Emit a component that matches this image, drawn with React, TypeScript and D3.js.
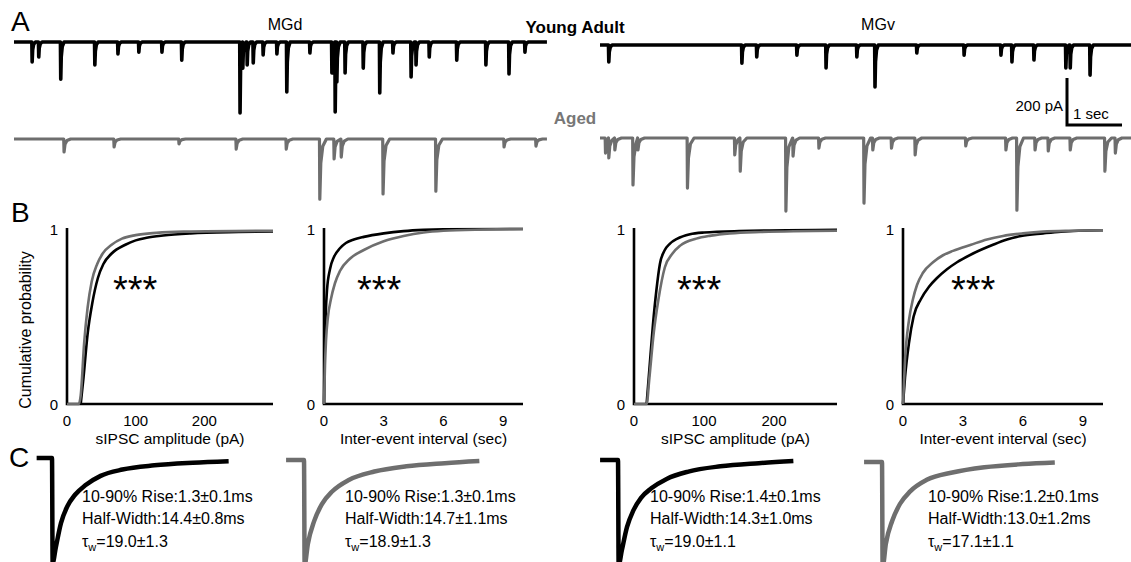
import React from "react";
import * as d3 from "d3";

const FONT = "'Liberation Sans', Arial, Helvetica, sans-serif";
const BLACK = "#000";
const GRAY = "#6e6e6e";

// Panel A: sIPSC events, [time (s), amplitude (pA)]
const youngMGdEvents = [
  [0.33, 85], [0.45, 64], [0.85, 158], [1.47, 98], [1.89, 51], [2.27, 43], [2.69, 43],
  [3.05, 77], [4.11, 302], [4.16, 111], [4.24, 98], [4.35, 89], [4.53, 55], [4.78, 51],
  [4.96, 213], [5.38, 47], [5.78, 132], [5.84, 298], [5.87, 170], [6.02, 132], [6.35, 111],
  [6.65, 217], [6.89, 47], [7.22, 149], [7.31, 98], [7.55, 64], [8.05, 77], [8.58, 98],
  [9.0, 136], [9.29, 43],
];
const youngMGvEvents = [
  [0.16, 72], [2.58, 77], [2.85, 51], [3.58, 43], [4.11, 98], [4.67, 51], [5.0, 179],
  [5.76, 34], [6.62, 43], [7.29, 43], [7.49, 72], [7.89, 64], [8.47, 98], [8.55, 98],
  [8.91, 128],
];
const agedMGdEvents = [
  [0.91, 55], [1.82, 34], [3.0, 21], [4.04, 43], [4.95, 43], [5.56, 256], [5.82, 85],
  [5.95, 77], [6.71, 234], [7.67, 222], [8.91, 34], [9.49, 30],
];
const agedMGvEvents = [
  [0.1, 64], [0.16, 85], [0.27, 51], [0.6, 200], [0.69, 51], [1.59, 213], [2.45, 72],
  [2.55, 141], [3.38, 311], [3.51, 77], [3.98, 43], [4.8, 277], [4.96, 51], [5.3, 43],
  [5.73, 72], [6.65, 34], [7.38, 51], [7.58, 307], [7.91, 51], [8.15, 55], [8.55, 51],
  [9.18, 141], [9.37, 64],
];
const traceDuration = 9.69; // sec
const scaleBarAmp = 200; // pA
const scaleBarTime = 1; // sec

// Panel B: cumulative distributions, [value, probability]
const mgdAmpYoung = [[20, 0], [24, 0.15], [30, 0.4], [37, 0.58], [45, 0.72], [53, 0.8], [65, 0.86], [85, 0.91], [100, 0.935], [116, 0.95], [140, 0.963], [180, 0.975], [250, 0.983], [300, 0.986]];
const mgdAmpAged = [[0, 0], [17, 0], [20, 0.05], [25, 0.35], [30, 0.55], [36, 0.7], [44, 0.8], [52, 0.86], [65, 0.91], [80, 0.945], [100, 0.965], [130, 0.978], [170, 0.985], [300, 0.99]];
const mgdIeiYoung = [[0, 0], [0.03, 0.3], [0.08, 0.5], [0.15, 0.65], [0.3, 0.77], [0.5, 0.84], [0.8, 0.89], [1.1, 0.92], [1.5, 0.94], [2, 0.955], [3, 0.975], [4, 0.988], [5, 0.995], [6, 0.998], [10, 1]];
const mgdIeiAged = [[0, 0], [0.05, 0.22], [0.1, 0.36], [0.2, 0.5], [0.35, 0.6], [0.55, 0.69], [0.8, 0.76], [1.3, 0.83], [2, 0.88], [3, 0.93], [4, 0.96], [5, 0.98], [6, 0.99], [8, 0.997], [10, 1]];
const mgvAmpYoung = [[18, 0], [22, 0.2], [27, 0.45], [32, 0.65], [37, 0.8], [44, 0.88], [51, 0.915], [62, 0.945], [80, 0.97], [100, 0.98], [150, 0.988], [290, 0.995]];
const mgvAmpAged = [[0, 0], [18, 0], [22, 0.15], [28, 0.4], [35, 0.6], [44, 0.78], [55, 0.86], [66, 0.905], [89, 0.945], [110, 0.962], [137, 0.975], [180, 0.983], [290, 0.99]];
const mgvIeiYoung = [[0, 0], [0.1, 0.15], [0.3, 0.35], [0.53, 0.5], [0.9, 0.6], [1.3, 0.67], [1.7, 0.72], [2.2, 0.77], [2.7, 0.81], [3.5, 0.86], [4.5, 0.91], [5.2, 0.94], [5.9, 0.96], [7, 0.975], [7.9, 0.985], [10, 0.993]];
const mgvIeiAged = [[0, 0], [0.1, 0.25], [0.3, 0.48], [0.5, 0.6], [0.7, 0.68], [1, 0.75], [1.5, 0.81], [2, 0.85], [2.5, 0.875], [3.4, 0.91], [4.2, 0.94], [5, 0.96], [6, 0.975], [7, 0.985], [8.5, 0.99], [10, 0.993]];
const ampTicks = [0, 100, 200];
const ieiTicks = [0, 3, 6, 9];
const probTicks = [0, 1];

// Panel C: averaged sIPSCs, [time (ms), fraction of peak]
const avgYoungMGd = [[-12, 0], [0, 0], [0.5, 1], [3, 0.85], [7, 0.62], [12, 0.46], [18, 0.35], [26, 0.26], [38, 0.17], [55, 0.11], [80, 0.07], [110, 0.045], [138, 0.03]];
const avgAgedMGd = [[-14, 0], [0, 0], [0.5, 1], [3, 0.8], [8, 0.58], [14, 0.42], [22, 0.3], [35, 0.19], [55, 0.11], [80, 0.06], [110, 0.03], [137, 0.01]];
const avgYoungMGv = [[-14, 0], [0, 0], [0.5, 1], [3, 0.86], [7, 0.64], [12, 0.48], [18, 0.36], [26, 0.27], [38, 0.18], [55, 0.11], [80, 0.06], [110, 0.03], [137, 0.01]];
const avgAgedMGv = [[-14, 0], [0, 0], [0.5, 1], [3, 0.78], [8, 0.56], [14, 0.4], [22, 0.28], [35, 0.17], [55, 0.1], [80, 0.05], [110, 0.02], [135, 0.005]];
const riseTimes = ["1.3±0.1", "1.3±0.1", "1.4±0.1", "1.2±0.1"];
const halfWidths = ["14.4±0.8", "14.7±1.1", "14.3±1.0", "13.0±1.2"];
const tauW = ["19.0±1.3", "18.9±1.3", "19.0±1.1", "17.1±1.1"];

// layout
const PX_PER_SEC = 55;
const PX_PER_200PA = 47;

const rawTraces = [
  { events: youngMGdEvents, x0: 14, y0: 42, color: BLACK, w: 3.6, decay: 0.06 },
  { events: youngMGvEvents, x0: 600, y0: 45, color: BLACK, w: 3.6, decay: 0.06 },
  { events: agedMGdEvents, x0: 14, y0: 139, color: GRAY, w: 3.2, decay: 0.12 },
  { events: agedMGvEvents, x0: 600, y0: 138, color: GRAY, w: 3.2, decay: 0.12 },
];

const RawTrace = ({ events, x0, y0, color, w, decay }) => {
  const x = d3.scaleLinear().domain([0, traceDuration]).range([x0, x0 + traceDuration * PX_PER_SEC]);
  const y = d3.scaleLinear().domain([0, 200]).range([y0, y0 + PX_PER_200PA]);
  const pts = [[0, 0]];
  events.forEach(([t, a], i) => {
    const next = i < events.length - 1 ? events[i + 1][0] : traceDuration;
    pts.push([t - 0.006, 0], [t, a]);
    const tail = [[t + decay * 0.15, a * 0.4], [t + decay * 0.45, a * 0.12], [t + decay, 0]];
    tail.filter((p) => p[0] < next - 0.006).forEach((p) => pts.push(p));
  });
  pts.push([traceDuration, 0]);
  const line = d3.line().x((d) => x(d[0])).y((d) => y(d[1]));
  return <path d={line(pts)} fill="none" stroke={color} strokeWidth={w} strokeLinejoin="round" />;
};

const cdfPlots = [
  { young: mgdAmpYoung, aged: mgdAmpAged, domain: [0, 300], left: 67, right: 273, ticks: ampTicks, title: "sIPSC amplitude (pA)", star: 113 },
  { young: mgdIeiYoung, aged: mgdIeiAged, domain: [0, 10], left: 324, right: 523, ticks: ieiTicks, title: "Inter-event interval (sec)", star: 357 },
  { young: mgvAmpYoung, aged: mgvAmpAged, domain: [0, 290], left: 634, right: 837, ticks: ampTicks, title: "sIPSC amplitude (pA)", star: 677 },
  { young: mgvIeiYoung, aged: mgvIeiAged, domain: [0, 10], left: 903, right: 1103, ticks: ieiTicks, title: "Inter-event interval (sec)", star: 951 },
];
const B_TOP = 228;
const B_BOTTOM = 404;

const CdfPlot = ({ young, aged, domain, left, right, ticks, title, star }) => {
  const x = d3.scaleLinear().domain(domain).range([left, right]);
  const y = d3.scaleLinear().domain([0, 1]).range([B_BOTTOM, B_TOP + 1]);
  const line = d3.line().x((d) => x(d[0])).y((d) => y(d[1])).curve(d3.curveMonotoneX);
  return (
    <g fontFamily={FONT}>
      <path d={`M${left},${B_TOP}V${B_BOTTOM}H${right}`} fill="none" stroke={BLACK} strokeWidth={2.6} />
      <path d={line(young)} fill="none" stroke={BLACK} strokeWidth={2.6} />
      <path d={line(aged)} fill="none" stroke={GRAY} strokeWidth={2.6} />
      {probTicks.map((p) => (
        <text key={p} x={left - 9} y={y(p) + 5.5} fontSize={15} textAnchor="end">{p}</text>
      ))}
      {ticks.map((t) => (
        <text key={t} x={x(t)} y={426} fontSize={15} textAnchor="middle">{t}</text>
      ))}
      <text x={(left + right) / 2} y={443.5} fontSize={15.5} textAnchor="middle">{title}</text>
      <text x={star} y={303} fontSize={38}>***</text>
    </g>
  );
};

const avgTraces = [
  { pts: avgYoungMGd, dropX: 52, y0: 458, color: BLACK, textX: 82 },
  { pts: avgAgedMGd, dropX: 304, y0: 460, color: GRAY, textX: 345 },
  { pts: avgYoungMGv, dropX: 618, y0: 460, color: BLACK, textX: 650 },
  { pts: avgAgedMGv, dropX: 882, y0: 462, color: GRAY, textX: 928 },
];

const AvgTrace = ({ pts, dropX, y0, color, textX, i }) => {
  const x = d3.scaleLinear().domain([0, 100]).range([dropX, dropX + 128]);
  const y = d3.scaleLinear().domain([0, 1]).range([y0, y0 + 105]);
  const line = d3.line().x((d) => x(d[0])).y((d) => y(d[1])).curve(d3.curveMonotoneX);
  return (
    <g>
      <path d={line(pts)} fill="none" stroke={color} strokeWidth={4.5} />
      <g fontFamily={FONT} fontSize={16}>
        <text x={textX} y={502}>{`10-90% Rise:${riseTimes[i]}ms`}</text>
        <text x={textX} y={524}>{`Half-Width:${halfWidths[i]}ms`}</text>
        <text x={textX} y={547}>
          τ<tspan fontSize={11} dy={4}>w</tspan>
          <tspan dy={-4}>{`=${tauW[i]}`}</tspan>
        </text>
      </g>
    </g>
  );
};

const App = () => {
  const barX = d3.scaleLinear().domain([0, scaleBarTime]).range([1067, 1067 + PX_PER_SEC]);
  const barY = d3.scaleLinear().domain([0, scaleBarAmp]).range([125, 125 - PX_PER_200PA]);
  return (
    <svg width={1131} height={562} style={{ position: "absolute", left: 0, top: 0, background: "#fff" }}>
      <rect width={1131} height={562} fill="#fff" />
      <g fontFamily={FONT}>
        <text x={11} y={31} fontSize={28}>A</text>
        <text x={11} y={222} fontSize={28}>B</text>
        <text x={9} y={467} fontSize={28}>C</text>
        <text x={285} y={30} fontSize={16} textAnchor="middle">MGd</text>
        <text x={878} y={30} fontSize={16} textAnchor="middle">MGv</text>
        <text x={575} y={33} fontSize={17} fontWeight="bold" textAnchor="middle">Young Adult</text>
        <text x={575} y={124} fontSize={17} fontWeight="bold" fill="#777" textAnchor="middle">Aged</text>
        <text x={1063} y={111} fontSize={15} textAnchor="end">200 pA</text>
        <text x={1073} y={119} fontSize={15}>1 sec</text>
        <text transform="translate(31,330) rotate(-90)" fontSize={16} textAnchor="middle">Cumulative probability</text>
      </g>
      {rawTraces.map((t, i) => <RawTrace key={i} {...t} />)}
      <path d={`M${barX(0)},${barY(scaleBarAmp)}V${barY(0)}H${barX(scaleBarTime)}`} fill="none" stroke={BLACK} strokeWidth={3} />
      {cdfPlots.map((p, i) => <CdfPlot key={i} {...p} />)}
      {avgTraces.map((t, i) => <AvgTrace key={i} i={i} {...t} />)}
    </svg>
  );
};

export default App;
